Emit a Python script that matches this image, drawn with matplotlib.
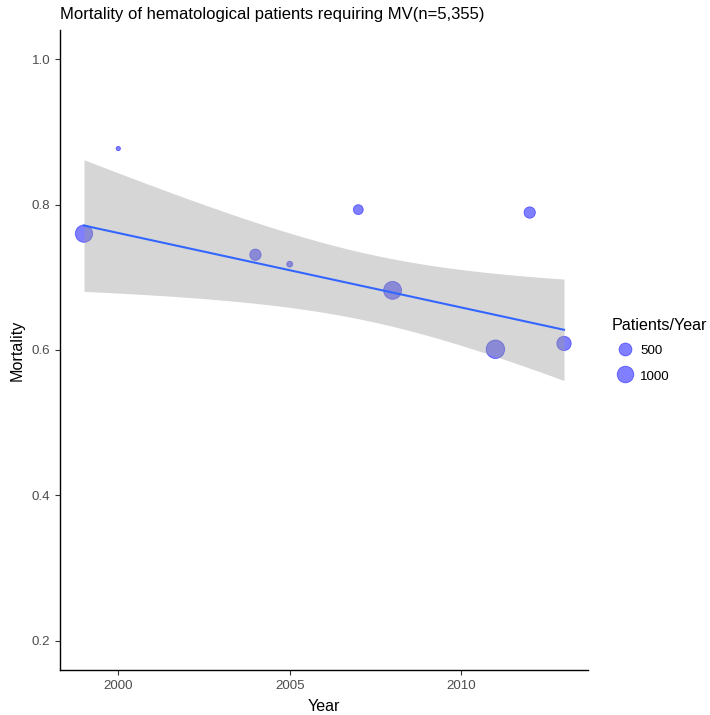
import numpy as np
import matplotlib.pyplot as plt
from matplotlib.lines import Line2D

plt.rcParams['font.family'] = ['Liberation Sans', 'DejaVu Sans']

years = np.array([1999, 2000, 2004, 2005, 2007, 2008, 2011, 2012, 2013])
mortality = np.array([0.760, 0.877, 0.731, 0.718, 0.793, 0.682, 0.601, 0.789, 0.609])
patients = np.array([1123, 31, 347, 47, 233, 1220, 1331, 347, 676])
legend_values = [500, 1000]

BLUE = '#0000FF'
LINE = '#3366FF'


def radius_px(v):
    # ggplot-like area scale: size range 1..6, radius in pixels
    f = (np.asarray(v, float) - patients.min()) / (patients.max() - patients.min())
    size = 1 + 5 * np.sqrt(f)
    return 1.4225 * size + 0.75


def to_pt(r):
    return 2 * r * 72 / 100


# weighted linear fit with 95% confidence band
w = patients.astype(float)
X = np.column_stack([np.ones_like(years, dtype=float), years - 2000.0])
W = np.diag(w)
XtWX = X.T @ W @ X
beta = np.linalg.solve(XtWX, X.T @ W @ mortality)
resid = mortality - X @ beta
sigma2 = (w * resid ** 2).sum() / (len(years) - 2)
cov = sigma2 * np.linalg.inv(XtWX)
xs = np.linspace(years.min(), years.max(), 80)
Xs = np.column_stack([np.ones_like(xs), xs - 2000.0])
fit = Xs @ beta
se = np.sqrt(np.einsum('ij,jk,ik->i', Xs, cov, Xs))
tcrit = 2.3646  # t(0.975, df=7)

fig = plt.figure(figsize=(7.1, 7.15), dpi=100)
ax = fig.add_axes([60 / 710, 1 - 670 / 715, 528 / 710, 640 / 715])

ax.scatter(years, mortality, s=to_pt(radius_px(patients)) ** 2,
           facecolor=BLUE, edgecolor=BLUE, alpha=0.5, linewidths=0.6, zorder=2)
ax.fill_between(xs, fit - tcrit * se, fit + tcrit * se, color='#999999',
                alpha=0.4, linewidth=0, zorder=3)
ax.plot(xs, fit, color=LINE, linewidth=1.5, zorder=4)

ax.set_xlim(1998.3, 2013.7)
ax.set_ylim(0.16, 1.04)
ax.set_xticks([2000, 2005, 2010])
ax.set_yticks([0.2, 0.4, 0.6, 0.8, 1.0])
ax.set_yticklabels(['0.2', '0.4', '0.6', '0.8', '1.0'])
for side in ['top', 'right']:
    ax.spines[side].set_visible(False)
for side in ['left', 'bottom']:
    ax.spines[side].set_linewidth(1.0)
    ax.spines[side].set_color('black')
ax.tick_params(length=3.5, width=0.8, color='#333333', labelcolor='#4D4D4D',
               labelsize=9.6, pad=3.5)

ax.set_xlabel('Year', fontsize=11.6, labelpad=5.5)
ax.set_ylabel('Mortality', fontsize=11.6, labelpad=5)
fig.text(60 / 710, 1 - 19.5 / 715,
         'Mortality of hematological patients requiring MV(n=5,355)',
         fontsize=12.0, ha='left', va='baseline')

handles = [Line2D([], [], linestyle='none', marker='o',
                  markersize=to_pt(radius_px(v)),
                  markerfacecolor=(0, 0, 1, 0.5), markeredgecolor=(0, 0, 1, 0.5),
                  markeredgewidth=0.6) for v in legend_values]
leg = fig.legend(handles, [str(v) for v in legend_values], title='Patients/Year',
                 loc='upper left', bbox_to_anchor=(612 / 710, 1 - 318 / 715),
                 frameon=False, fontsize=9.6, title_fontsize=11.6,
                 handlelength=2.0, handleheight=1.3, handletextpad=0.1,
                 labelspacing=0.8, borderpad=0, borderaxespad=0)
leg._legend_box.align = 'left'
leg._legend_box.sep = 7

fig.savefig('out.png', dpi=100)
